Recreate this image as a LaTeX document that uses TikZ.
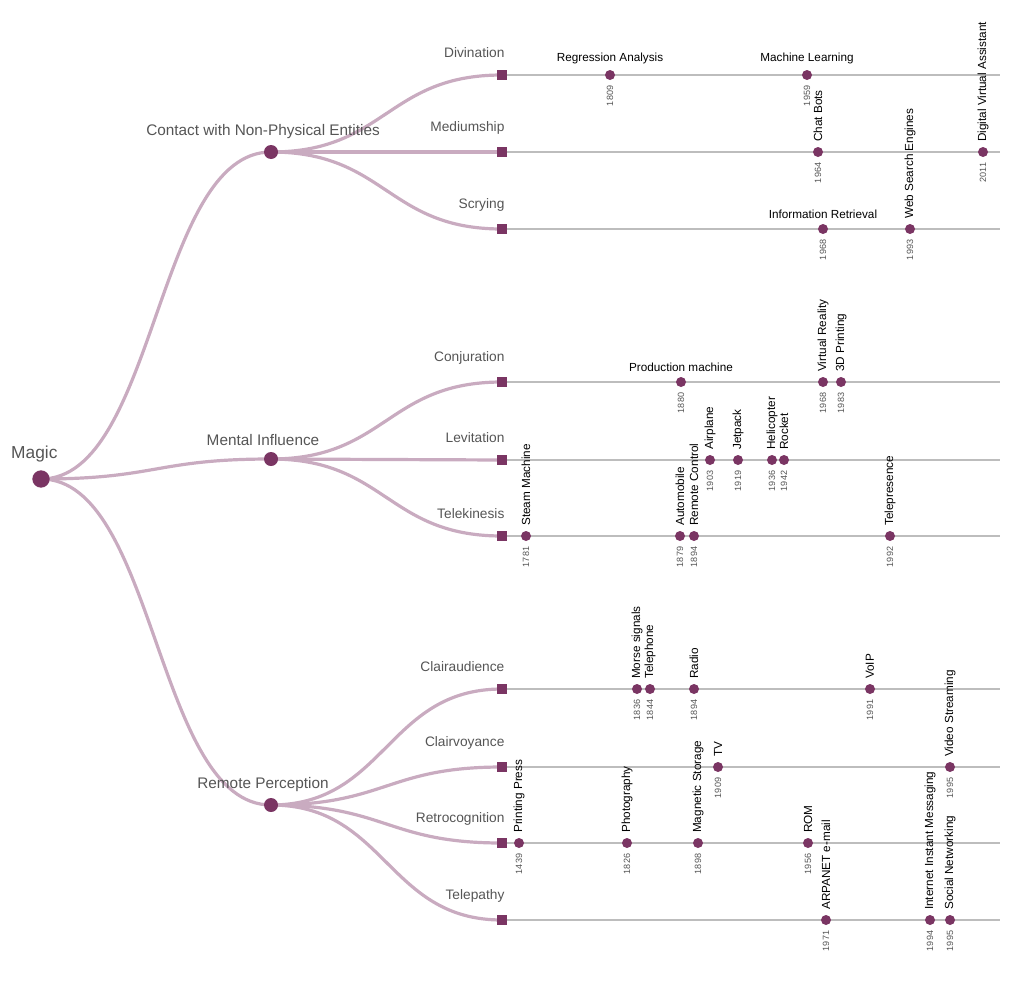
\documentclass[tikz,border=0pt]{standalone}
\usepackage{fontspec}
\setmainfont{Liberation Sans}
\usetikzlibrary{positioning}
\definecolor{dotc}{HTML}{7A3563}
\definecolor{linkc}{HTML}{C9ABC0}
\definecolor{linec}{HTML}{BDBDBD}
\definecolor{labc}{HTML}{555555}
\tikzset{
    link/.style = {draw=linkc, line width=2.4pt},
    timeline/.style = {draw=linec, line width=1.7pt},
    root-dot/.style = {circle, fill=dotc, minimum size=13pt, inner sep=0pt},
    mid-dot/.style = {circle, fill=dotc, minimum size=10.5pt, inner sep=0pt},
    leaf-box/.style = {rectangle, fill=dotc, minimum size=7.5pt, inner sep=0pt},
    event-dot/.style = {circle, fill=dotc, minimum size=7.5pt, inner sep=0pt},
    branch-label/.style = {text=labc, font=\fontsize{11.5}{13}\selectfont, inner sep=1pt},
    leaf-label/.style = {text=labc, font=\fontsize{10.3}{12}\selectfont, inner sep=1pt},
    event-label/.style = {font=\fontsize{8.8}{10}\selectfont, inner sep=1pt},
    year-label/.style = {text=labc, font=\fontsize{6.8}{8}\selectfont, inner sep=1pt},
}
% event on a timeline: #1 name, #2 x, #3 y, #4 label, #5 year, #6 h or v
\newcommand{\evt}[6]{%
  \node[event-dot] (#1) at (#2,#3) {};
  \if#6h\node[event-label, anchor=south] at ([yshift=3pt]#1.north) {#4};%
  \else\node[event-label, rotate=90, anchor=west] at ([yshift=2.5pt]#1.north) {#4};\fi
  \node[year-label, rotate=90, anchor=east] at ([yshift=-3pt]#1.south) {#5};}

\begin{document}
\begin{tikzpicture}[x=0.75pt, y=-0.75pt]
\useasboundingbox (0,0) rectangle (1024,985);

% tree points
\coordinate (magic) at (41,479);
\coordinate (contact) at (271,152);
\coordinate (mental) at (271,459);
\coordinate (remote) at (271,805);
\foreach \n/\y in {divination/75, mediumship/152, scrying/229, conjuration/382, levitation/460,
    telekinesis/536, clairaudience/689, clairvoyance/767, retrocognition/843, telepathy/920}
    \coordinate (\n) at (502,\y);

% timelines
\foreach \n in {divination, mediumship, scrying, conjuration, levitation,
    telekinesis, clairaudience, clairvoyance, retrocognition, telepathy}
    \draw[timeline] (\n) -- ++(498,0);

% links
\foreach \m in {contact, mental, remote}
    \draw[link] (magic) .. controls +(115,0) and +(-115,0) .. (\m);
\foreach \m/\l in {contact/divination, contact/mediumship, contact/scrying,
    mental/conjuration, mental/levitation, mental/telekinesis,
    remote/clairaudience, remote/clairvoyance, remote/retrocognition, remote/telepathy}
    \draw[link] (\m) .. controls +(115,0) and +(-115,0) .. (\l);

% nodes
\node[root-dot] (magic-dot) at (magic) {};
\node[branch-label, font=\fontsize{13}{15}\selectfont, above=5pt of magic-dot.north, xshift=-5pt] {Magic};
\foreach \m/\t in {contact/Contact with Non-Physical Entities, mental/Mental Influence, remote/Remote Perception} {
    \node[mid-dot] (\m-dot) at (\m) {};
    \node[branch-label, above=3pt of \m-dot.north, xshift=-6pt] {\t};
}
\foreach \n/\t in {divination/Divination, mediumship/Mediumship, scrying/Scrying, conjuration/Conjuration,
    levitation/Levitation, telekinesis/Telekinesis, clairaudience/Clairaudience, clairvoyance/Clairvoyance,
    retrocognition/Retrocognition, telepathy/Telepathy} {
    \node[leaf-box] (\n-box) at (\n) {};
    \node[leaf-label, anchor=south east] at ([xshift=3pt, yshift=8pt]\n-box.north) {\t};
}

% events
\evt{regression}{610}{75}{Regression Analysis}{1809}{h}
\evt{learning}{807}{75}{Machine Learning}{1959}{h}
\evt{chatbots}{818}{152}{Chat Bots}{1964}{v}
\evt{assistant}{983}{152}{Digital Virtual Assistant}{2011}{v}
\evt{retrieval}{823}{229}{Information Retrieval}{1968}{h}
\evt{websearch}{910}{229}{Web Search Engines}{1993}{v}
\evt{production}{681}{382}{Production machine}{1880}{h}
\evt{vr}{823}{382}{Virtual Reality}{1968}{v}
\evt{printing3d}{841}{382}{3D Printing}{1983}{v}
\evt{airplane}{710}{460}{Airplane}{1903}{v}
\evt{jetpack}{738}{460}{Jetpack}{1919}{v}
\evt{helicopter}{772}{460}{Helicopter}{1936}{v}
\evt{rocket}{784}{460}{Rocket}{1942}{v}
\evt{steam}{526}{536}{Steam Machine}{1781}{v}
\evt{automobile}{680}{536}{Automobile}{1879}{v}
\evt{remotectl}{694}{536}{Remote Control}{1894}{v}
\evt{telepresence}{890}{536}{Telepresence}{1992}{v}
\evt{morse}{637}{689}{Morse signals}{1836}{v}
\evt{telephone}{650}{689}{Telephone}{1844}{v}
\evt{radio}{694}{689}{Radio}{1894}{v}
\evt{voip}{870}{689}{VoIP}{1991}{v}
\evt{tv}{718}{767}{TV}{1909}{v}
\evt{video}{950}{767}{Video Streaming}{1995}{v}
\evt{press}{519}{843}{Printing Press}{1439}{v}
\evt{photo}{627}{843}{Photography}{1826}{v}
\evt{magnetic}{698}{843}{Magnetic Storage}{1898}{v}
\evt{rom}{808}{843}{ROM}{1956}{v}
\evt{arpanet}{826}{920}{ARPANET e-mail}{1971}{v}
\evt{messaging}{930}{920}{Internet Instant Messaging}{1994}{v}
\evt{social}{950}{920}{Social Networking}{1995}{v}
\end{tikzpicture}
\end{document}
